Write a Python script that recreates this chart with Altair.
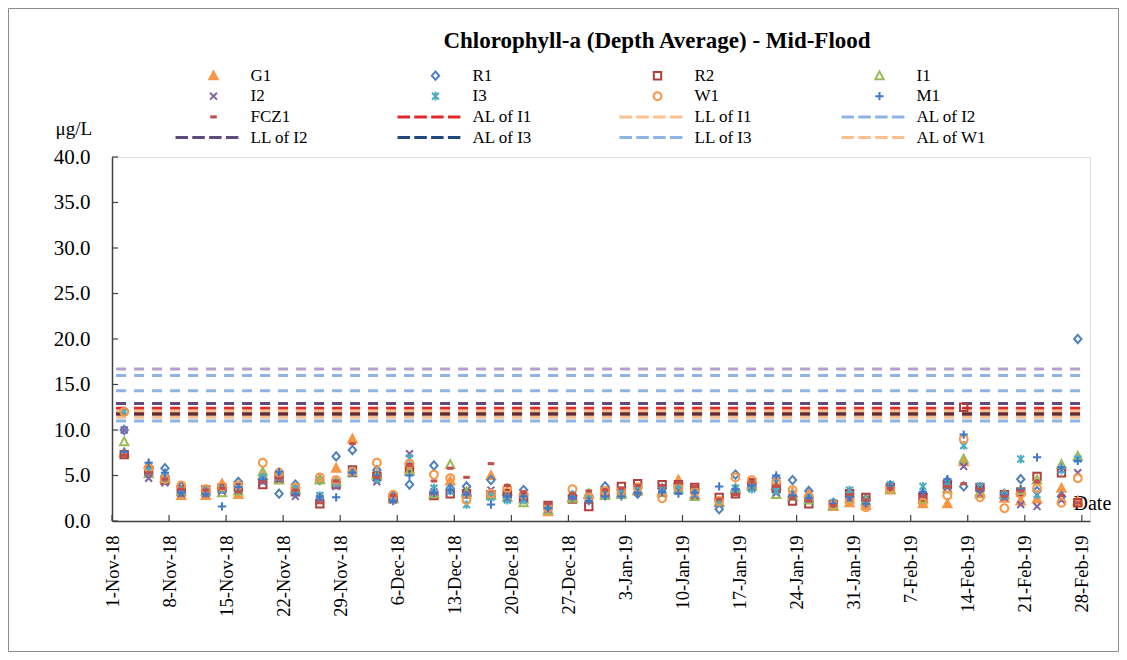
import math
import altair as alt
import pandas as pd

# ---------------- data ----------------
sample_dates = [
    "2018-11-02", "2018-11-05", "2018-11-07", "2018-11-09", "2018-11-12", "2018-11-14",
    "2018-11-16", "2018-11-19", "2018-11-21", "2018-11-23", "2018-11-26", "2018-11-28",
    "2018-11-30", "2018-12-03", "2018-12-05", "2018-12-07", "2018-12-10", "2018-12-12",
    "2018-12-14", "2018-12-17", "2018-12-19", "2018-12-21", "2018-12-24", "2018-12-27",
    "2018-12-29", "2018-12-31", "2019-01-02", "2019-01-04", "2019-01-07", "2019-01-09",
    "2019-01-11", "2019-01-14", "2019-01-16", "2019-01-18", "2019-01-21", "2019-01-23",
    "2019-01-25", "2019-01-28", "2019-01-30", "2019-02-01", "2019-02-04", "2019-02-08",
    "2019-02-11", "2019-02-13", "2019-02-15", "2019-02-18", "2019-02-20", "2019-02-22",
    "2019-02-25", "2019-02-27",
]

G1 = [7.5, 6.2, 4.8, 2.8, 2.8, 4.1, 2.9, 5.0, 4.6, 3.5, 4.6, 5.8, 9.0, 5.2, 2.6, 5.7, 3.0, 4.4,
      3.2, 5.0, 3.3, 2.4, 1.0, 2.6, 2.9, 3.0, 3.1, 3.4, 3.3, 4.5, 2.9, 2.0, 3.4, 4.0, 3.9, 3.1,
      3.0, 1.6, 2.0, 1.7, 3.4, 1.9, 1.9, 6.5, 3.0, 2.5, 2.2, 2.4, 3.6, 2.2]
R1 = [10.0, 6.0, 5.8, 3.8, 3.3, 3.6, 4.3, 4.6, 3.0, 4.0, 4.5, 7.1, 7.8, 5.6, 2.7, 4.0, 6.1, 3.6,
      3.8, 4.5, 2.8, 3.4, 1.6, 2.8, 2.8, 3.8, 3.0, 3.0, 3.6, 3.4, 3.3, 1.3, 5.1, 4.1, 4.7, 4.5,
      3.3, 2.0, 2.7, 2.4, 3.9, 3.0, 4.4, 3.8, 3.6, 3.0, 4.6, 3.3, 2.7, 20.0]
R2 = [7.3, 5.5, 4.5, 3.4, 3.4, 3.6, 3.7, 4.0, 4.8, 3.2, 1.9, 4.0, 5.6, 4.9, 2.5, 5.9, 2.8, 3.0,
      3.0, 2.9, 3.0, 2.6, 1.7, 2.4, 1.6, 3.2, 3.8, 4.1, 4.0, 4.0, 3.7, 2.6, 3.0, 4.2, 3.6, 2.2,
      1.9, 1.8, 3.0, 2.6, 3.7, 2.6, 4.0, 12.5, 3.7, 2.9, 3.2, 4.9, 5.3, 2.0]
I1 = [8.7, 5.2, 4.7, 3.2, 3.2, 3.1, 3.3, 5.4, 4.5, 3.4, 4.5, 4.3, 5.3, 5.0, 2.4, 5.5, 3.0, 6.2,
      3.1, 2.8, 2.6, 2.0, 1.2, 2.5, 3.0, 2.8, 2.9, 3.3, 3.1, 3.5, 2.7, 2.1, 3.6, 3.8, 2.9, 2.7,
      2.3, 1.7, 2.4, 2.2, 3.5, 2.4, 3.5, 6.8, 3.2, 2.9, 3.4, 4.5, 6.2, 7.1]
I2 = [10.0, 4.7, 4.2, 3.0, 3.0, 3.3, 3.4, 4.3, 4.6, 2.7, 2.5, 3.8, 5.2, 4.3, 2.3, 7.4, 3.2, 3.3,
      2.9, 3.4, 2.5, 2.5, 1.3, 2.7, 2.4, 3.1, 3.4, 3.2, 3.0, 3.3, 2.8, 1.9, 3.2, 3.7, 3.1, 2.6,
      2.4, 1.9, 2.5, 2.0, 3.8, 2.9, 3.7, 6.0, 3.0, 2.6, 1.8, 1.6, 2.3, 5.3]
I3 = [12.0, 5.5, 4.8, 3.4, 3.3, 3.5, 3.5, 4.8, 4.9, 3.6, 2.8, 4.2, 5.5, 4.6, 2.6, 6.9, 3.6, 3.3,
      1.8, 2.6, 2.3, 2.3, 1.5, 2.9, 2.5, 2.9, 3.0, 3.5, 3.4, 3.6, 3.0, 2.0, 3.6, 3.5, 3.3, 2.9,
      2.6, 2.0, 3.4, 2.1, 4.0, 3.8, 4.2, 8.3, 3.8, 2.8, 6.8, 2.9, 5.6, 6.8]
W1 = [12.0, 5.8, 4.6, 3.9, 3.5, 3.8, 3.9, 6.4, 5.3, 3.7, 4.8, 4.5, 5.4, 6.4, 2.9, 6.3, 5.1, 4.7,
      2.3, 3.0, 3.6, 2.9, 1.4, 3.5, 2.6, 3.3, 3.3, 3.7, 2.5, 3.7, 3.2, 2.2, 4.8, 4.5, 4.3, 3.4,
      2.7, 1.8, 2.3, 1.5, 3.6, 2.0, 2.8, 9.0, 2.6, 1.4, 3.0, 3.6, 2.0, 4.7]
M1 = [7.6, 6.4, 5.3, 3.1, 3.0, 1.6, 3.7, 4.5, 5.4, 3.0, 2.6, 2.6, 5.3, 5.0, 2.2, 5.0, 3.1, 3.4,
      2.9, 1.8, 2.7, 2.7, 1.4, 2.6, 2.2, 2.7, 2.7, 3.1, 3.2, 3.0, 3.1, 3.8, 3.5, 3.9, 5.0, 2.8,
      2.5, 1.9, 2.6, 1.9, 3.9, 3.2, 4.6, 9.5, 3.4, 2.8, 3.5, 7.0, 5.9, 6.6]
FCZ1 = [7.2, 5.3, 4.6, 3.5, 3.4, 3.6, 3.2, 4.3, 4.7, 3.4, 2.0, 4.4, 8.5, 4.8, 2.8, 6.1, 4.4, 5.8,
        4.8, 6.3, 3.9, 3.2, 1.9, 3.0, 3.3, 3.4, 3.6, 3.9, 3.9, 4.2, 3.8, 2.4, 2.9, 4.3, 3.8, 2.5,
        2.2, 1.7, 2.9, 2.3, 3.6, 2.7, 3.8, 4.1, 3.5, 2.7, 3.3, 4.3, 2.8, 2.0]

point_series = ["G1", "R1", "R2", "I1", "I2", "I3", "W1", "M1", "FCZ1"]
point_values = [G1, R1, R2, I1, I2, I3, W1, M1, FCZ1]

line_series = ["AL of I1", "LL of I1", "AL of I2", "LL of I2", "AL of I3", "LL of I3", "AL of W1"]
line_levels = [12.4, 12.1, 14.3, 12.9, 11.75, 16.0, 11.4]
# further level lines drawn in the chart but not listed in its legend
unlisted_lines = ["unlisted 1", "unlisted 2", "unlisted 3"]
unlisted_levels = [16.7, 11.0, 11.75]

line_start = "2018-11-01"
line_end = "2019-02-28"

x_tick_dates = [
    "2018-11-01", "2018-11-08", "2018-11-15", "2018-11-22", "2018-11-29", "2018-12-06",
    "2018-12-13", "2018-12-20", "2018-12-27", "2019-01-03", "2019-01-10", "2019-01-17",
    "2019-01-24", "2019-01-31", "2019-02-07", "2019-02-14", "2019-02-21", "2019-02-28",
]
y_tick_values = [0, 5, 10, 15, 20, 25, 30, 35, 40]

# ---------------- styling ----------------
SERIF = "Liberation Serif"
stroke_colors = {
    "G1": "#F79646", "R1": "#4F81BD", "R2": "#B0403C", "I1": "#9BBB59", "I2": "#8064A2",
    "I3": "#4BACC6", "W1": "#F79646", "M1": "#3F78C8", "FCZ1": "#C0504D",
}
fill_colors = {"G1": "#F79646", "FCZ1": "#C0504D"}
line_colors = ["#E02828", "#FAC090", "#8DB4E2", "#604A7B", "#1F497D", "#8DB4E2", "#FAC090"]
unlisted_colors = ["#B3A2C7", "#8DB4E2", "#6B2A28"]

SYM_SIZE = 85
SW = 2.0
U = math.sqrt(SYM_SIZE) / 2.0  # px per path unit
LEFT_PX, RIGHT_PX = -38.0, 26.0
extent = "M{:.3f},0M{:.3f},0".format(LEFT_PX / U, RIGHT_PX / U)

marker_paths = {
    "G1": "M0,-0.95L0.9,0.75L-0.9,0.75Z",
    "R1": "M0,-0.9L0.8,0L0,0.9L-0.8,0Z",
    "R2": "M-0.8,-0.8H0.8V0.8H-0.8Z",
    "I1": "M0,-0.95L0.9,0.75L-0.9,0.75Z",
    "I2": "M-0.75,-0.75L0.75,0.75M0.75,-0.75L-0.75,0.75",
    "I3": "M-0.75,-0.75L0.75,0.75M0.75,-0.75L-0.75,0.75M0,-0.95V0.95",
    "W1": "M0.85,0A0.85,0.85,0,1,1,-0.85,0A0.85,0.85,0,1,1,0.85,0Z",
    "M1": "M-0.9,0H0.9M0,-0.9V0.9",
    "FCZ1": "M-0.5,-0.12H0.5V0.12H-0.5Z",
}


def dashed_symbol():
    parts = []
    dash, gap = 12.5, 4.3
    for i in range(4):
        x0 = LEFT_PX + i * (dash + gap) + SW / 2
        x1 = LEFT_PX + i * (dash + gap) + dash - SW / 2
        parts.append("M{:.3f},{:.3f}H{:.3f}V{:.3f}H{:.3f}Z".format(
            x0 / U, -0.5 / U, x1 / U, 0.5 / U, x0 / U))
    return "".join(parts)


legend_domain = point_series + line_series
shape_range = [extent + marker_paths[s] for s in point_series] + [dashed_symbol() for _ in line_series]
stroke_range = [stroke_colors[s] for s in point_series] + line_colors
fill_range = [fill_colors.get(s, "transparent") for s in point_series] + line_colors

# ---------------- tables ----------------
rows = []
for name, vals in zip(point_series, point_values):
    for d, v in zip(sample_dates, vals):
        rows.append({"date": (pd.Timestamp(d) + pd.Timedelta(hours=12)).strftime("%Y-%m-%dT%H:%M:%S"),
                     "series": name, "value": v})
points_df = pd.DataFrame(rows)

all_line_names = line_series + unlisted_lines
all_line_levels = line_levels + unlisted_levels
all_line_colors = line_colors + unlisted_colors
lines_df = pd.DataFrame({
    "line": all_line_names,
    "value": all_line_levels,
    "start": (pd.Timestamp(line_start) + pd.Timedelta(hours=12)).strftime("%Y-%m-%dT%H:%M:%S"),
    "end": (pd.Timestamp(line_end) + pd.Timedelta(hours=12)).strftime("%Y-%m-%dT%H:%M:%S"),
})
xtick_df = pd.DataFrame({"d": [d + "T00:00:00" for d in x_tick_dates]})
ytick_df = pd.DataFrame({"v": y_tick_values})

# ---------------- scales / axes ----------------
W, H = 978, 364
PAD = {"left": 104, "top": 149, "right": 29, "bottom": 131}
x_scale = alt.Scale(domain=[alt.DateTime(year=2018, month=11, date=1),
                            alt.DateTime(year=2019, month=3, date=1)])
y_scale = alt.Scale(domain=[0, 40])

tick_dt = []
for d in x_tick_dates:
    ts = pd.Timestamp(d)
    tick_dt.append(alt.DateTime(year=ts.year, month=ts.month, date=ts.day))

x_axis = alt.Axis(
    values=tick_dt, format="%-d-%b-%y", labelAngle=270, labelFont=SERIF, labelFontSize=18.5,
    labelColor="black", labelPadding=14, labelOverlap=False, ticks=False, grid=False,
    domainColor="#404040", domainWidth=1.5, title="Date", titleFont=SERIF, titleFontSize=20,
    titleFontWeight="normal", titleColor="black", titleAngle=0, titleAlign="left",
    titleBaseline="alphabetic", titleX=961, titleY=-12,
)
y_axis = alt.Axis(
    values=y_tick_values, format=".1f", labelFont=SERIF, labelFontSize=21, labelColor="black",
    labelPadding=22, ticks=False, grid=False, domainColor="#404040", domainWidth=1.5,
    title="μg/L", titleFont=SERIF, titleFontSize=19, titleFontWeight="normal", titleColor="black",
    titleAngle=0, titleAlign="left", titleBaseline="alphabetic", titleX=-57, titleY=-23,
)

legend = alt.Legend(
    orient="none", legendX=93, legendY=-90, columns=4, direction="horizontal", title=None,
    symbolSize=SYM_SIZE, symbolStrokeWidth=SW, labelFont=SERIF, labelFontSize=17,
    labelColor="black", labelOffset=28.5, columnPadding=72, rowPadding=2.7,
    gridAlign="all", padding=0, labelLimit=200,
)

frame = alt.Chart(pd.DataFrame({"k": [0]})).mark_rect(
    fill="transparent", stroke="#8c8c8c", strokeWidth=1
).encode(
    x=alt.value(-PAD["left"] + 0.5), x2=alt.value(W + PAD["right"] - 0.5),
    y=alt.value(-PAD["top"] + 0.5), y2=alt.value(H + PAD["bottom"] - 0.5),
)

rules = alt.Chart(lines_df).mark_rule(strokeWidth=3, strokeDash=[10, 8]).encode(
    x=alt.X("start:T", scale=x_scale, axis=x_axis),
    x2="end:T",
    y=alt.Y("value:Q", scale=y_scale, axis=y_axis),
    color=alt.Color("line:N", scale=alt.Scale(domain=all_line_names, range=all_line_colors), legend=None),
)

points = alt.Chart(points_df).mark_point(size=SYM_SIZE, strokeWidth=SW, opacity=1).encode(
    x=alt.X("date:T", scale=x_scale, axis=x_axis),
    y=alt.Y("value:Q", scale=y_scale, axis=y_axis),
    shape=alt.Shape("series:N", scale=alt.Scale(domain=legend_domain, range=shape_range), legend=legend),
    stroke=alt.Stroke("series:N", scale=alt.Scale(domain=legend_domain, range=stroke_range), legend=legend),
    fill=alt.Fill("series:N", scale=alt.Scale(domain=legend_domain, range=fill_range), legend=legend),
)

yticks = alt.Chart(ytick_df).mark_rule(color="#404040", strokeWidth=1.2).encode(
    y=alt.Y("v:Q", scale=y_scale, axis=y_axis), x=alt.value(0), x2=alt.value(6),
)
xticks = alt.Chart(xtick_df).mark_rule(color="#404040", strokeWidth=1.2).encode(
    x=alt.X("d:T", scale=x_scale, axis=x_axis), y=alt.value(H), y2=alt.value(H - 6),
)

chart = alt.layer(frame, rules, points, yticks, xticks).properties(
    width=W, height=H,
    title=alt.TitleParams(
        "Chlorophyll-a (Depth Average) - Mid-Flood", font=SERIF, fontSize=23, fontWeight="bold",
        color="black", anchor="middle", frame="group", dx=56, offset=-45,
    ),
    autosize=alt.AutoSizeParams(type="none"),
    padding=PAD,
).configure_view(stroke=None).configure(background="white")

chart.save("out.html", embed_options={"renderer": "svg", "actions": False})
